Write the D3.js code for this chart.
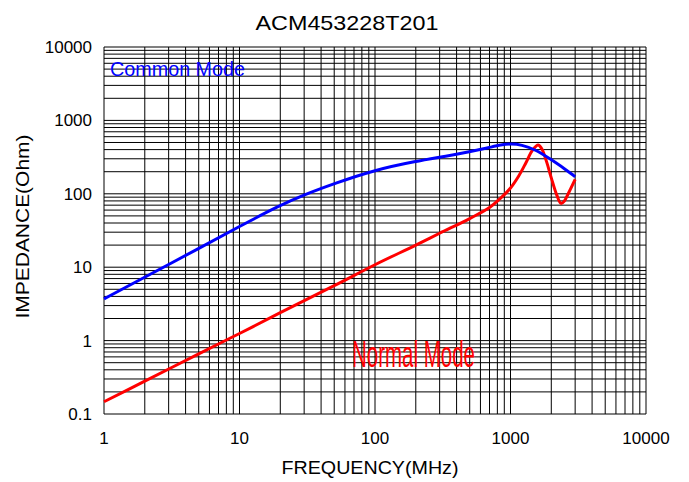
<!DOCTYPE html>
<html>
<head>
<meta charset="utf-8">
<script src="https://cdn.jsdelivr.net/npm/d3@7"></script>
<style>
  body { margin: 0; background: #fff; }
  text { font-family: "Liberation Sans", Arial, sans-serif; fill: #000; }
</style>
</head>
<body>
<svg id="chart" width="689" height="482"></svg>
<script>
// chart data
const title = 'ACM453228T201';
const xTicks = [1, 10, 100, 1000, 10000];
const yTicks = [0.1, 1, 10, 100, 1000, 10000];

const commonFreq = [1, 2, 5, 10, 20, 30, 50, 100, 200, 340, 500, 700, 850, 1000, 1200, 1560, 2000, 2500, 3000];
const commonZ    = [3.7, 7.3, 18, 36, 70, 97, 138, 212, 278, 327, 375, 428, 465, 480, 468, 395, 291, 221, 171];

const normalFreq = [1, 2, 5, 10, 20, 50, 100, 200, 300, 500, 700, 850, 1000, 1150, 1300, 1450, 1600, 1700, 1850, 2000, 2200, 2360, 2500, 2700, 3000];
const normalZ    = [0.147, 0.28, 0.66, 1.25, 2.4, 5.6, 10.8, 20, 29, 46, 65, 88, 120, 175, 265, 390, 462, 410, 270, 165, 95, 74, 80, 105, 157];

// layout
const svg = d3.select('#chart');
const margin = { top: 47, right: 43, bottom: 68, left: 104 };
const width = 689 - margin.left - margin.right;
const height = 482 - margin.top - margin.bottom;

const x = d3.scaleLog().domain([1, 10000]).range([margin.left, margin.left + width]);
const y = d3.scaleLog().domain([0.1, 10000]).range([margin.top + height, margin.top]);

// log grid lines: 1..9 in each decade
function gridValues(lo, hi) {
    const vals = [];
    for (let d = lo; d < hi; d *= 10) {
        for (let k = 1; k < 10; k++) vals.push(d * k);
    }
    vals.push(hi);
    return vals;
}

const grid = svg.append('g').attr('stroke', '#000').attr('stroke-width', 1);

grid.selectAll('.vline')
    .data(gridValues(1, 10000))
    .enter().append('line')
    .attr('x1', d => x(d)).attr('x2', d => x(d))
    .attr('y1', margin.top).attr('y2', margin.top + height);

grid.selectAll('.hline')
    .data(gridValues(0.1, 10000))
    .enter().append('line')
    .attr('y1', d => y(d)).attr('y2', d => y(d))
    .attr('x1', margin.left).attr('x2', margin.left + width);

// tick labels
const fmt = d => d < 1 ? String(d) : d3.format('d')(d);

svg.selectAll('.xlabel')
    .data(xTicks)
    .enter().append('text')
    .attr('x', d => x(d))
    .attr('y', margin.top + height + 30)
    .attr('text-anchor', 'middle')
    .attr('font-size', 17)
    .text(fmt);

svg.selectAll('.ylabel')
    .data(yTicks)
    .enter().append('text')
    .attr('x', margin.left - 12)
    .attr('y', d => y(d) + 6)
    .attr('text-anchor', 'end')
    .attr('font-size', 17)
    .text(fmt);

// curves
const smoothLine = d3.line()
    .x(d => x(d[0]))
    .y(d => y(d[1]))
    .curve(d3.curveBasis);

const peakLine = d3.line()
    .x(d => x(d[0]))
    .y(d => y(d[1]))
    .curve(d3.curveCatmullRom.alpha(0.5));

svg.append('path')
    .datum(d3.zip(normalFreq, normalZ))
    .attr('fill', 'none')
    .attr('stroke', '#ff0000')
    .attr('stroke-width', 3)
    .attr('d', peakLine);

svg.append('path')
    .datum(d3.zip(commonFreq, commonZ))
    .attr('fill', 'none')
    .attr('stroke', '#0000ff')
    .attr('stroke-width', 3)
    .attr('d', smoothLine);

// series labels
svg.append('text')
    .attr('x', 110).attr('y', 76)
    .attr('font-size', 20)
    .attr('textLength', 135).attr('lengthAdjust', 'spacingAndGlyphs')
    .style('fill', '#0000ff')
    .text('Common Mode');

svg.append('text')
    .attr('x', 352).attr('y', 367)
    .attr('font-size', 36)
    .attr('textLength', 123).attr('lengthAdjust', 'spacingAndGlyphs')
    .style('fill', '#ff0000')
    .text('Normal Mode');

// titles
svg.append('text')
    .attr('x', 347).attr('y', 30)
    .attr('text-anchor', 'middle')
    .attr('font-size', 21)
    .attr('textLength', 183).attr('lengthAdjust', 'spacingAndGlyphs')
    .text(title);

svg.append('text')
    .attr('x', 370).attr('y', 474)
    .attr('text-anchor', 'middle')
    .attr('font-size', 18)
    .attr('textLength', 177).attr('lengthAdjust', 'spacingAndGlyphs')
    .text('FREQUENCY(MHz)');

svg.append('text')
    .attr('transform', 'translate(29,' + (margin.top + height / 2 - 4) + ') rotate(-90)')
    .attr('text-anchor', 'middle')
    .attr('font-size', 19)
    .attr('textLength', 184).attr('lengthAdjust', 'spacingAndGlyphs')
    .text('IMPEDANCE(Ohm)');
</script>
</body>
</html>
